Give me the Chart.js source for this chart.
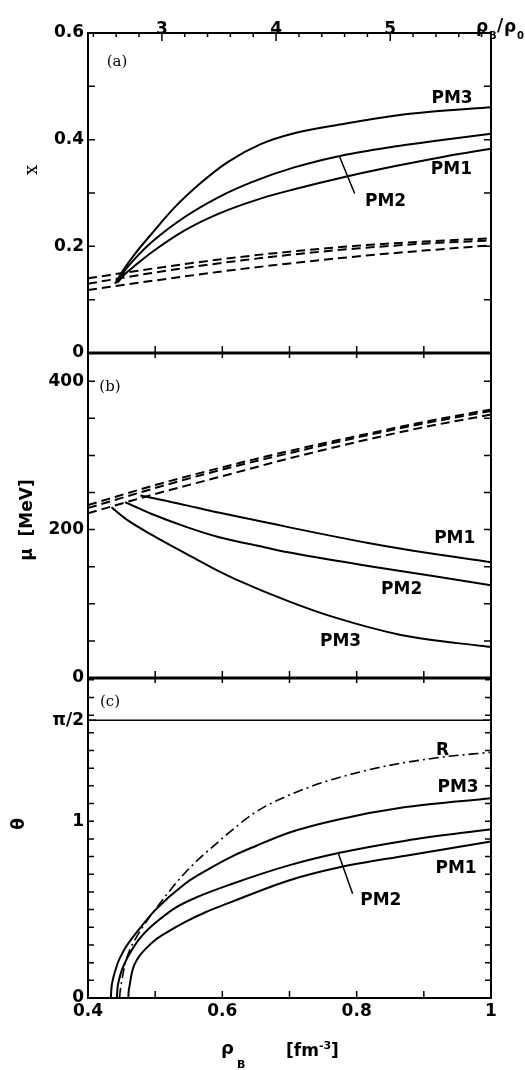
<!DOCTYPE html>
<html><head><meta charset="utf-8">
<script src="https://cdn.jsdelivr.net/npm/chart.js@4.4.1/dist/chart.umd.min.js"></script>
<style>html,body{margin:0;padding:0;background:#fff;}#wrap{width:525px;height:1070px;position:relative;}</style>
</head><body><div id="wrap"><canvas id="c" width="525" height="1070"></canvas></div>
<script>
// ---------- data ----------
const rho0 = 0.17;
const rhoGrid = [0.4, 0.5, 0.6, 0.7, 0.8, 0.9, 1.0];

// panel (a): x
const rhoA_PM3 = [0.440, 0.455, 0.470, 0.495, 0.529, 0.569, 0.608, 0.658, 0.707, 0.782, 0.856, 0.906, 1.0];
const xA_PM3   = [0.130, 0.160, 0.186, 0.224, 0.273, 0.320, 0.358, 0.392, 0.412, 0.430, 0.445, 0.452, 0.461];
const rhoA_PM2 = [0.442, 0.455, 0.470, 0.495, 0.544, 0.594, 0.643, 0.707, 0.777, 0.856, 0.930, 1.0];
const xA_PM2   = [0.131, 0.155, 0.177, 0.208, 0.255, 0.292, 0.320, 0.348, 0.370, 0.387, 0.400, 0.411];
const rhoA_PM1 = [0.444, 0.455, 0.470, 0.495, 0.544, 0.594, 0.658, 0.707, 0.782, 0.856, 0.930, 1.0];
const xA_PM1   = [0.132, 0.148, 0.164, 0.189, 0.230, 0.261, 0.290, 0.307, 0.330, 0.350, 0.368, 0.383];
const xA_N1 = [0.140, 0.159, 0.176, 0.190, 0.201, 0.209, 0.215];
const xA_N2 = [0.130, 0.151, 0.169, 0.184, 0.196, 0.205, 0.211];
const xA_N3 = [0.118, 0.136, 0.153, 0.168, 0.181, 0.192, 0.202];

// panel (b): mu [MeV]
const rhoB_PM1 = [0.478, 0.500, 0.545, 0.594, 0.664, 0.700, 0.817, 0.916, 1.0];
const muB_PM1  = [246, 242, 233, 223, 210, 203, 182, 167, 156];
const rhoB_PM2 = [0.455, 0.475, 0.495, 0.545, 0.594, 0.664, 0.700, 0.817, 0.916, 1.0];
const muB_PM2  = [237, 229, 221, 204, 190, 176, 169, 151, 137, 125];
const rhoB_PM3 = [0.435, 0.460, 0.495, 0.545, 0.590, 0.620, 0.700, 0.766, 0.866, 0.950, 1.0];
const muB_PM3  = [230, 212, 193, 168, 146, 133, 103, 82, 58, 47, 42];
const muB_N1 = [233, 260, 284, 306, 326, 345, 362];
const muB_N2 = [229, 256, 281, 303, 324, 343, 360];
const muB_N3 = [222, 248, 272, 296, 318, 338, 355];

// panel (c): theta
const rhoC_PM3 = [0.434, 0.435, 0.4365, 0.438, 0.441, 0.445, 0.450, 0.455, 0.460, 0.475, 0.500, 0.545, 0.580, 0.614, 0.650, 0.699, 0.773, 0.873, 1.0];
const thC_PM3  = [0, 0.060, 0.095, 0.120, 0.160, 0.205, 0.245, 0.280, 0.309, 0.384, 0.497, 0.648, 0.730, 0.800, 0.860, 0.935, 1.010, 1.080, 1.130];
const rhoC_PM2 = [0.443, 0.444, 0.445, 0.447, 0.450, 0.455, 0.462, 0.475, 0.490, 0.505, 0.530, 0.560, 0.614, 0.699, 0.773, 0.873, 1.0];
const thC_PM2  = [0, 0.058, 0.082, 0.115, 0.153, 0.200, 0.250, 0.327, 0.390, 0.440, 0.510, 0.567, 0.645, 0.750, 0.820, 0.890, 0.955];
const rhoC_PM1 = [0.460, 0.4605, 0.4617, 0.465, 0.470, 0.4776, 0.485, 0.500, 0.515, 0.545, 0.575, 0.614, 0.699, 0.773, 0.873, 1.0];
const thC_PM1  = [0, 0.035, 0.064, 0.139, 0.196, 0.243, 0.275, 0.328, 0.366, 0.431, 0.485, 0.544, 0.665, 0.738, 0.805, 0.885];
const rhoC_R   = [0.447, 0.448, 0.450, 0.455, 0.462, 0.470, 0.483, 0.505, 0.545, 0.607, 0.649, 0.724, 0.823, 0.922, 1.0];
const thC_R    = [0, 0.040, 0.090, 0.190, 0.270, 0.330, 0.410, 0.525, 0.710, 0.925, 1.050, 1.185, 1.295, 1.360, 1.390];
const rhoC_half = [0.4, 1.0];
const thC_half  = [Math.PI / 2, Math.PI / 2];

// tick labels
const xTicks = [0.4, 0.6, 0.8, 1.0];
const xTickLabels = ['0.4', '0.6', '0.8', '1'];
const topTicks = [3, 4, 5];
const topTickLabels = ['3', '4', '5'];
const aTicks = [0, 0.2, 0.4, 0.6];
const aTickLabels = ['0', '0.2', '0.4', '0.6'];
const bTicks = [0, 200, 400];
const bTickLabels = ['0', '200', '400'];
const cTicks = [0, 1, Math.PI / 2];
const cTickLabels = ['0', '1', 'π/2'];

// curve labels (text, rho, value)
const labA = [['PM3', 0.942, 0.477], ['PM1', 0.941, 0.344], ['PM2', 0.843, 0.284]];
const labB = [['PM1', 0.946, 188], ['PM2', 0.867, 119], ['PM3', 0.776, 49]];
const labC = [['R', 0.928, 1.40], ['PM3', 0.951, 1.19], ['PM1', 0.948, 0.73], ['PM2', 0.836, 0.55]];
const leadA = [[0.774, 0.370], [0.797, 0.299]];
const leadC = [[0.773, 0.815], [0.794, 0.59]];

// ---------- build ----------
const pts = (xs, ys) => xs.map((v, i) => ({x: v, y: ys[i]}));
function ds(xs, ys, axis, dash, w) {
  return {data: pts(xs, ys), yAxisID: axis, xAxisID: 'x', borderColor: '#000', borderWidth: w,
    borderDash: dash, pointRadius: 0, fill: false, cubicInterpolationMode: 'monotone', borderCapStyle: 'butt'};
}
const DASH = [9, 5];
const datasets = [
  ds(rhoA_PM3, xA_PM3, 'ya', [], 2), ds(rhoA_PM2, xA_PM2, 'ya', [], 2), ds(rhoA_PM1, xA_PM1, 'ya', [], 2),
  ds(rhoGrid, xA_N1, 'ya', DASH, 2), ds(rhoGrid, xA_N2, 'ya', DASH, 2), ds(rhoGrid, xA_N3, 'ya', DASH, 2),
  ds(rhoB_PM1, muB_PM1, 'yb', [], 2), ds(rhoB_PM2, muB_PM2, 'yb', [], 2), ds(rhoB_PM3, muB_PM3, 'yb', [], 2),
  ds(rhoGrid, muB_N1, 'yb', DASH, 2), ds(rhoGrid, muB_N2, 'yb', DASH, 2), ds(rhoGrid, muB_N3, 'yb', DASH, 2),
  ds(rhoC_PM3, thC_PM3, 'yc', [], 2), ds(rhoC_PM2, thC_PM2, 'yc', [], 2), ds(rhoC_PM1, thC_PM1, 'yc', [], 2),
  ds(rhoC_R, thC_R, 'yc', [10, 4, 2, 4], 1.6), ds(rhoC_half, thC_half, 'yc', [], 1.5)
];

const FONT = {family: 'DejaVu Sans', size: 17, weight: 'bold'};
function yScale(min, max, w, ticks, labels) {
  return {type: 'linear', position: 'left', stack: 'panels', stackWeight: w, min: min, max: max,
    grid: {display: false, drawTicks: false}, border: {display: false},
    afterBuildTicks: s => { s.ticks = ticks.map(v => ({value: v})); },
    afterFit: s => { s.width = 88; },
    ticks: {autoSkip: false, padding: 4, color: '#000', font: FONT, callback: (v, i) => labels[i]}};
}

const decor = {
  id: 'decor',
  afterDraw(chart) {
    const ctx = chart.ctx, X = chart.scales.x, T = chart.scales.x2;
    const A = chart.scales.ya, B = chart.scales.yb, C = chart.scales.yc;
    const L = chart.chartArea.left, R = chart.chartArea.right;
    const top = chart.chartArea.top, bot = chart.chartArea.bottom;
    ctx.save();
    ctx.strokeStyle = '#000'; ctx.fillStyle = '#000';
    // frame
    ctx.lineWidth = 2;
    ctx.strokeRect(L, top, R - L, bot - top);
    ctx.lineWidth = 3;
    ctx.beginPath();
    ctx.moveTo(L, A.bottom); ctx.lineTo(R, A.bottom);
    ctx.moveTo(L, B.bottom); ctx.lineTo(R, B.bottom);
    ctx.stroke();
    // ticks
    ctx.lineWidth = 1.5;
    ctx.beginPath();
    const vt = (s, vals, len) => vals.forEach(v => { const p = s.getPixelForValue(v);
      ctx.moveTo(L, p); ctx.lineTo(L + len, p); ctx.moveTo(R, p); ctx.lineTo(R - len, p); });
    const ht = (y, vals, len, dir, s) => vals.forEach(v => { const p = (s || X).getPixelForValue(v);
      ctx.moveTo(p, y); ctx.lineTo(p, y + dir * len); });
    const seq = (a, b, st) => { const o = []; for (let k = 0; a + k * st <= b + 1e-9; k++) o.push(a + k * st); return o; };
    vt(A, seq(0.1, 0.5, 0.1), 7);
    vt(B, seq(50, 400, 50), 7);
    vt(C, seq(0.1, 1.8, 0.1), 6);
    vt(C, [Math.PI / 2], 8);
    const rm = seq(0.5, 0.9, 0.1);
    ht(A.bottom, rm, 7, -1); ht(B.top, rm, 5, 1);
    ht(B.bottom, rm, 7, -1); ht(C.top, rm, 5, 1);
    ht(C.bottom, rm, 7, -1);
    ht(top, topTicks, 8, 1, T);
    ht(top, seq(2.4, 5.8, 0.2).filter(v => Math.abs(v - Math.round(v)) > 0.05), 4, 1, T);
    ctx.stroke();
    // leaders
    ctx.lineWidth = 1.5;
    ctx.beginPath();
    ctx.moveTo(X.getPixelForValue(leadA[0][0]), A.getPixelForValue(leadA[0][1]));
    ctx.lineTo(X.getPixelForValue(leadA[1][0]), A.getPixelForValue(leadA[1][1]));
    ctx.moveTo(X.getPixelForValue(leadC[0][0]), C.getPixelForValue(leadC[0][1]));
    ctx.lineTo(X.getPixelForValue(leadC[1][0]), C.getPixelForValue(leadC[1][1]));
    ctx.stroke();
    // curve labels
    ctx.font = 'bold 17px "DejaVu Sans"';
    ctx.textAlign = 'center'; ctx.textBaseline = 'middle';
    labA.forEach(l => ctx.fillText(l[0], X.getPixelForValue(l[1]), A.getPixelForValue(l[2])));
    labB.forEach(l => ctx.fillText(l[0], X.getPixelForValue(l[1]), B.getPixelForValue(l[2])));
    labC.forEach(l => ctx.fillText(l[0], X.getPixelForValue(l[1]), C.getPixelForValue(l[2])));
    // panel tags
    ctx.font = '15px "DejaVu Serif"';
    ctx.fillText('(a)', L + 29, A.top + 29);
    ctx.fillText('(b)', L + 22, A.bottom + 34);
    ctx.fillText('(c)', L + 22, B.bottom + 24);
    // y titles
    const rot = (txt, x, y, font) => { ctx.save(); ctx.translate(x, y); ctx.rotate(-Math.PI / 2);
      ctx.font = font; ctx.fillText(txt, 0, 0); ctx.restore(); };
    rot('x', 32, 170, '18px "DejaVu Serif"');
    rot('μ  [MeV]', 28, 520, 'bold 17px "DejaVu Sans"');
    rot('θ', 20, 824, 'bold 17px "DejaVu Sans"');
    // x title
    ctx.textAlign = 'left'; ctx.textBaseline = 'alphabetic';
    ctx.font = 'bold 18px "DejaVu Sans"'; ctx.fillText('ρ', 221, 1054);
    ctx.font = 'bold 11px "DejaVu Sans"'; ctx.fillText('B', 237, 1068);
    ctx.font = 'bold 17px "DejaVu Sans"'; ctx.fillText('[fm', 286, 1056);
    const w1 = ctx.measureText('[fm').width;
    ctx.font = 'bold 11px "DejaVu Sans"'; ctx.fillText('-3', 286 + w1, 1049);
    const w2 = ctx.measureText('-3').width;
    ctx.font = 'bold 17px "DejaVu Sans"'; ctx.fillText(']', 286 + w1 + w2, 1056);
    // top-right title
    ctx.font = 'bold 17px "DejaVu Sans"'; ctx.fillText('ρ', 476, 32);
    ctx.font = 'bold 10px "DejaVu Sans"'; ctx.fillText('B', 489, 39);
    ctx.font = 'bold 17px "DejaVu Sans"'; ctx.fillText('/', 497, 31); ctx.fillText('ρ', 504, 32);
    ctx.font = 'bold 10px "DejaVu Sans"'; ctx.fillText('0', 517, 39);
    ctx.restore();
  }
};

new Chart(document.getElementById('c'), {
  type: 'line',
  data: {datasets: datasets},
  plugins: [decor],
  options: {
    responsive: false, animation: false, events: [],
    layout: {padding: {left: 0, right: 34, top: 0, bottom: 0}},
    plugins: {legend: {display: false}, tooltip: {enabled: false}},
    scales: {
      x: {type: 'linear', position: 'bottom', min: 0.4, max: 1.0,
        grid: {display: false, drawTicks: false}, border: {display: false},
        afterBuildTicks: s => { s.ticks = xTicks.map(v => ({value: v})); },
        afterFit: s => { s.height = 72; },
        ticks: {autoSkip: false, padding: 3, color: '#000', font: FONT, maxRotation: 0, callback: (v, i) => xTickLabels[i]}},
      x2: {type: 'linear', position: 'top', min: 0.4 / rho0, max: 1.0 / rho0,
        grid: {display: false, drawTicks: false}, border: {display: false},
        afterBuildTicks: s => { s.ticks = topTicks.map(v => ({value: v})); },
        afterFit: s => { s.height = 33; },
        ticks: {autoSkip: false, padding: -7, color: '#000', font: FONT, maxRotation: 0, callback: (v, i) => topTickLabels[i]}},
      yc: yScale(0, 1.81, 320, cTicks, cTickLabels),
      yb: yScale(0, 438, 325, bTicks, bTickLabels),
      ya: yScale(0, 0.6, 320, aTicks, aTickLabels)
    }
  }
});
</script></body></html>
